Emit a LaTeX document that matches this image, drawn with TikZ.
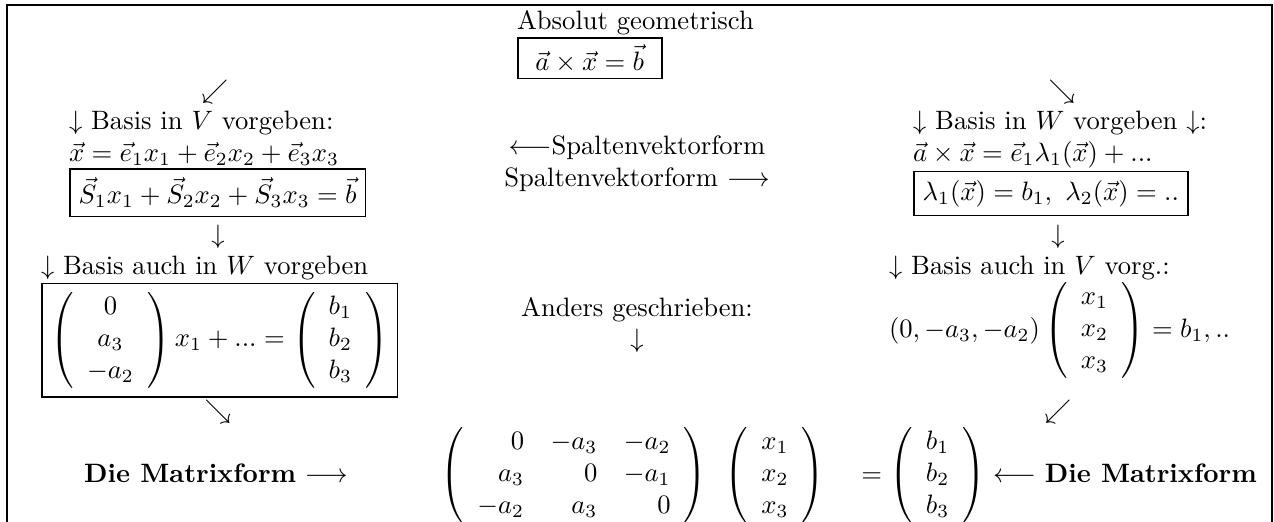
\documentclass[tikz,border=0pt]{standalone}
\usepackage{amsmath}
\setlength{\fboxrule}{0.6pt}
\begin{document}
\begin{tikzpicture}[x=0.376pt,y=-0.376pt,
  txt/.style={inner sep=0pt, outer sep=0pt},
  blk/.style={txt, align=left, anchor=north west},
  cblk/.style={txt, align=center, anchor=north},
  frameline/.style={line width=0.6pt}]
\useasboundingbox (0,0) rectangle (1274,522);
\clip (0,0) rectangle (1274,522);
\draw[frameline] (7,600) -- (7,5) -- (1272,5) -- (1272,600);
% top
\node[blk] (top) at (517,10) {Absolut geometrisch\\{\setlength{\fboxsep}{2pt}\fbox{\hspace{1pt} $\vec a\times\vec x=\vec b$ \hspace{1pt}}}};
% diagonal arrows row 1
\node[txt] (al1) at (215,92) {$\swarrow$};
\node[txt] (ar1) at (1062,92) {$\searrow$};
% row 2
\node[blk] (lb1) at (69,111) {$\downarrow$ Basis in $V$ vorgeben:\\$\vec x=\vec e_1x_1+\vec e_2x_2+\vec e_3x_3$\\\fbox{$\vec S_1x_1+\vec S_2x_2+\vec S_3x_3=\vec b$}};
\node[cblk] (mid1) at (637,136) {$\longleftarrow$Spaltenvektorform\\Spaltenvektorform $\longrightarrow$};
\node[blk] (rb1) at (913,111) {$\downarrow$ Basis in $W$ vorgeben $\downarrow$:\\$\vec a\times\vec x=\vec e_1\lambda_1(\vec x)+...$\\\fbox{$\lambda_1(\vec x)=b_1,\ \lambda_2(\vec x)=..$}};
% down arrows
\node[txt] (dl) at (218,237) {$\downarrow$};
\node[txt] (dr) at (1058,237) {$\downarrow$};
% row 3
\node[blk] (lb2) at (41,256) {$\downarrow$ Basis auch in $W$ vorgeben\\\fbox{$\left(\begin{array}{c}0\\a_3\\-a_2\end{array}\right)x_1+...=\left(\begin{array}{c}b_1\\b_2\\b_3\end{array}\right)$}};
\node[cblk] (mid2) at (637,297) {Anders geschrieben:\\$\downarrow$};
\node[blk] (rb2) at (889,256) {$\downarrow$ Basis auch in $V$ vorg.:\\$(0,-a_3,-a_2)\left(\begin{array}{c}x_1\\x_2\\x_3\end{array}\right)=b_1,..$};
% diagonal arrows row 2
\node[txt] (al2) at (218,412) {$\searrow$};
\node[txt] (ar2) at (1058,412) {$\swarrow$};
% bottom row
\node[txt, anchor=base] (bl) at (216,482) {\textbf{Die Matrixform} $\longrightarrow$};
\node[txt, anchor=base] (bm) at (633,482) {$\left(\begin{array}{rrr}0&-a_3&-a_2\\a_3&0&-a_1\\-a_2&a_3&0\end{array}\right)\hspace{5pt}\left(\begin{array}{c}x_1\\x_2\\x_3\end{array}\right)$};
\node[txt, anchor=base] (br) at (1059,482) {$=\left(\begin{array}{c}b_1\\b_2\\b_3\end{array}\right)\longleftarrow$ \textbf{Die Matrixform}};
\end{tikzpicture}
\end{document}
